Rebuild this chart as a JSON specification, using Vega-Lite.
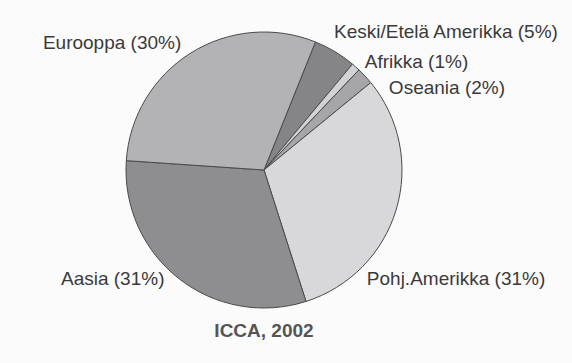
{
  "$schema": "https://vega.github.io/schema/vega-lite/v6.json",
  "width": 528,
  "height": 340,
  "autosize": {"type": "none"},
  "padding": {"left": 0, "top": 0, "right": 44, "bottom": 23},
  "background": "#fbfbfb",
  "config": {
    "view": {"stroke": null},
    "font": "Liberation Sans",
    "text": {"font": "Liberation Sans", "fontSize": 19, "fill": "#3a3a3a", "baseline": "alphabetic"}
  },
  "title": {
    "text": "ICCA, 2002",
    "orient": "bottom",
    "anchor": "middle",
    "font": "Liberation Sans",
    "fontSize": 19,
    "fontWeight": "bold",
    "color": "#555555",
    "offset": -42
  },
  "data": {
    "values": [
      {"region": "Keski/Etelä Amerikka", "label": "Keski/Etelä Amerikka (5%)", "share": 5, "order": 1},
      {"region": "Afrikka", "label": "Afrikka (1%)", "share": 1, "order": 2},
      {"region": "Oseania", "label": "Oseania (2%)", "share": 2, "order": 3},
      {"region": "Pohj.Amerikka", "label": "Pohj.Amerikka (31%)", "share": 31, "order": 4},
      {"region": "Aasia", "label": "Aasia (31%)", "share": 31, "order": 5},
      {"region": "Eurooppa", "label": "Eurooppa (30%)", "share": 30, "order": 6}
    ]
  },
  "encoding": {
    "theta": {"field": "share", "type": "quantitative", "stack": true, "scale": {"range": [0.382, 6.6652]}},
    "order": {"field": "order", "type": "quantitative"}
  },
  "layer": [
    {
      "mark": {"type": "arc", "outerRadius": 138, "stroke": "#4a4a4a", "strokeWidth": 1},
      "encoding": {
        "color": {
          "field": "region",
          "type": "nominal",
          "legend": null,
          "scale": {
            "domain": ["Keski/Etelä Amerikka", "Afrikka", "Oseania", "Pohj.Amerikka", "Aasia", "Eurooppa"],
            "range": ["#858588", "#d2d2d4", "#a6a6a9", "#d8d8da", "#8e8e91", "#b3b3b6"]
          }
        }
      }
    },
    {
      "mark": {"type": "text", "radius": 150, "align": "left", "dx": -7, "dy": -3.6},
      "encoding": {"text": {"condition": {"test": "datum.order === 1", "field": "label"}, "value": ""}}
    },
    {
      "mark": {"type": "text", "radius": 150, "align": "left", "dx": 1, "dy": 10},
      "encoding": {"text": {"condition": {"test": "datum.order === 2", "field": "label"}, "value": ""}}
    },
    {
      "mark": {"type": "text", "radius": 150, "align": "left", "dx": 15, "dy": 26},
      "encoding": {"text": {"condition": {"test": "datum.order === 3", "field": "label"}, "value": ""}}
    },
    {
      "mark": {"type": "text", "radius": 150, "align": "left", "dx": -41, "dy": 72},
      "encoding": {"text": {"condition": {"test": "datum.order === 4", "field": "label"}, "value": ""}}
    },
    {
      "mark": {"type": "text", "radius": 150, "align": "right", "dx": -7, "dy": -3},
      "encoding": {"text": {"condition": {"test": "datum.order === 5", "field": "label"}, "value": ""}}
    },
    {
      "mark": {"type": "text", "radius": 150, "align": "right", "dx": -3, "dy": 6},
      "encoding": {"text": {"condition": {"test": "datum.order === 6", "field": "label"}, "value": ""}}
    }
  ]
}
